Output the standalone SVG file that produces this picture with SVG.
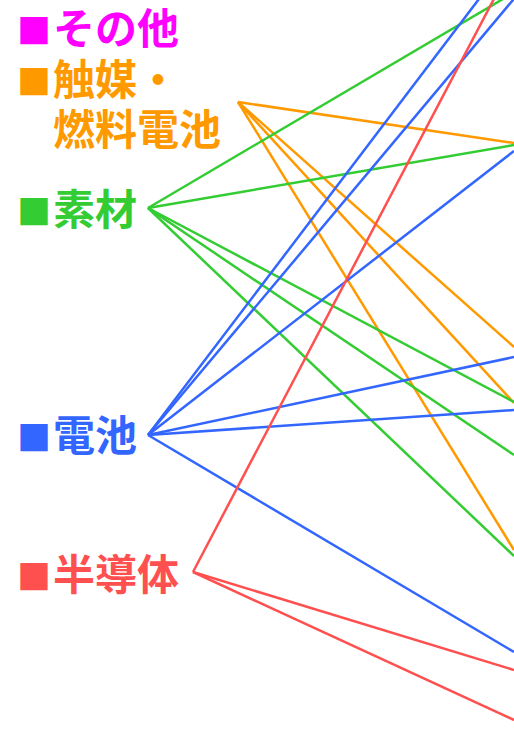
<svg xmlns="http://www.w3.org/2000/svg" width="514" height="735" viewBox="0 0 514 735">
<style>
text{font-family:"Noto Sans CJK JP","Noto Sans CJK SC",sans-serif;font-weight:bold;font-size:42px}
.sq{font-size:34px}
.m{fill:#ff00ff}.o{fill:#ff9900}.g{fill:#33cc33}.b{fill:#3366ff}.r{fill:#ff5050}
#connectors line{stroke-width:2.5;fill:none}
.lo{stroke:#ff9900}.lg{stroke:#33cc33}.lb{stroke:#3366ff}.lr{stroke:#ff5050}
</style>
<rect width="514" height="735" fill="#ffffff"/>
<g id="connectors">
<line class="lo" x1="238" y1="102" x2="514" y2="143"/>
<line class="lo" x1="238" y1="102" x2="514" y2="347"/>
<line class="lo" x1="238" y1="102" x2="514" y2="403"/>
<line class="lo" x1="238" y1="102" x2="514" y2="550"/>
<line class="lg" x1="148" y1="208" x2="514" y2="-7.5"/>
<line class="lg" x1="148" y1="208" x2="514" y2="145"/>
<line class="lg" x1="148" y1="208" x2="514" y2="402"/>
<line class="lg" x1="148" y1="208" x2="514" y2="455"/>
<line class="lg" x1="148" y1="208" x2="514" y2="556"/>
<line class="lb" x1="148" y1="435" x2="482" y2="-5"/>
<line class="lb" x1="148" y1="435" x2="518" y2="-6"/>
<line class="lb" x1="148" y1="435" x2="514" y2="151"/>
<line class="lb" x1="148" y1="435" x2="514" y2="357"/>
<line class="lb" x1="148" y1="435" x2="514" y2="410"/>
<line class="lb" x1="148" y1="435" x2="514" y2="652"/>
<line class="lr" x1="193" y1="572" x2="496" y2="-5"/>
<line class="lr" x1="193" y1="572" x2="514" y2="670"/>
<line class="lr" x1="193" y1="572" x2="514" y2="720"/>
</g>
<g id="node-other"><text class="m" x="17" y="44"><tspan class="sq">■</tspan><tspan x="53">その他</tspan></text></g>
<g id="node-catalyst"><text class="o" x="17" y="95"><tspan class="sq">■</tspan><tspan x="53">触媒・</tspan></text><text class="o" x="53" y="145">燃料電池</text></g>
<g id="node-material"><text class="g" x="17" y="225"><tspan class="sq">■</tspan><tspan x="53">素材</tspan></text></g>
<g id="node-battery"><text class="b" x="17" y="451"><tspan class="sq">■</tspan><tspan x="53">電池</tspan></text></g>
<g id="node-semiconductor"><text class="r" x="17" y="590"><tspan class="sq">■</tspan><tspan x="53">半導体</tspan></text></g>
</svg>
